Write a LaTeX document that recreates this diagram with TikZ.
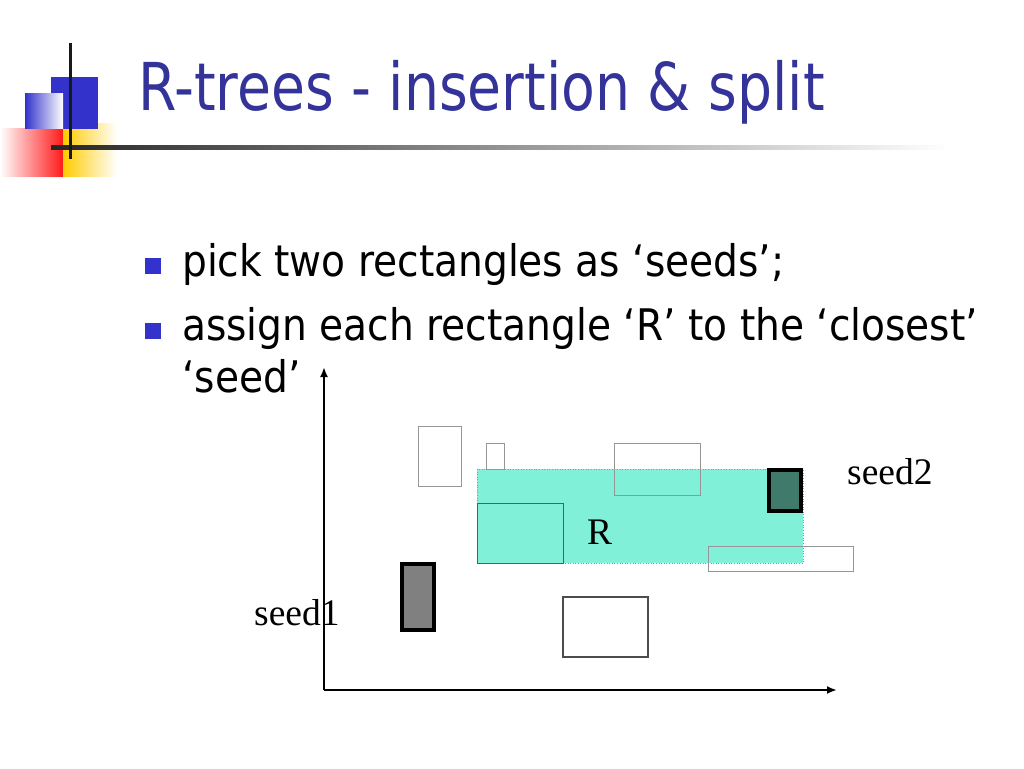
\documentclass[tikz,border=0pt]{standalone}
\usepackage{fontspec}
\usepackage{graphicx}
\setmainfont{Liberation Serif}
\newfontfamily\tahoma{DejaVu Sans Condensed}
\usetikzlibrary{arrows.meta}
\definecolor{titleblue}{HTML}{333399}
\definecolor{bulletblue}{HTML}{3333CC}
\definecolor{logoblue}{HTML}{3333CC}
\definecolor{cyanfill}{RGB}{128,240,216}
\definecolor{seedtwo}{RGB}{64,122,106}
\definecolor{thingray}{RGB}{150,150,150}
\definecolor{logoyellow}{HTML}{FFCC00}
\tikzset{
  bodytext/.style={anchor=base west,inner sep=0pt,font=\tahoma\fontsize{43.5}{50}\selectfont},
  bulletsq/.style={fill=bulletblue,draw=none},
  thinrect/.style={draw=thingray,line width=1pt},
  seedrect/.style={draw=black,line width=4pt},
  lbl/.style={inner sep=0pt,font=\fontsize{37.5}{40}\selectfont},
  axis/.style={line width=2pt,-{Latex[length=10pt,width=8pt]}}
}
\begin{document}
\begin{tikzpicture}[x=1pt,y=-1pt]
\useasboundingbox[fill=white] (0,0) rectangle (1024,768);
% logo
\shade[left color=white,right color=red!90] (0,128) rectangle (63,176);
\shade[left color=logoyellow,right color=white] (63,123) rectangle (117,176);
\fill[logoblue] (51,77) rectangle (98,129);
\shade[left color=logoblue,right color=white] (25,93) rectangle (63,128);
\shade[left color=black!85,right color=white] (51,145.5) rectangle (950,149);
\fill[black!90] (68.5,43) rectangle (71.5,159);
% title
\node[anchor=base west,inner sep=0pt,text=titleblue,font=\tahoma\fontsize{66}{70}\selectfont] (title) at (138,110) {\scalebox{0.93}[1]{R-trees - insertion \& split}};
% bullets
\fill[bulletsq] (145,258) rectangle (161,274);
\fill[bulletsq] (145,323) rectangle (161,339);
\node[bodytext] (l1) at (182,276) {pick two rectangles as ‘seeds’;};
\node[bodytext] (l2) at (182,340) {assign each rectangle ‘R’ to the ‘closest’};
\node[bodytext] (l3) at (182,392) {‘seed’};
% axes
\coordinate (o) at (324,690);
\coordinate (ytip) at (324,367);
\coordinate (xtip) at (837,690);
\draw[axis] (o) -- (ytip);
\draw[axis] (o) -- (xtip);
% R region
\fill[cyanfill] (477,469) rectangle (803,563);
\draw[thingray,line width=0.6pt,dotted] (477,469) rectangle (803,563);
% rectangles
\draw[thinrect] (418,426) rectangle (461,486);
\draw[thinrect] (486,443) rectangle (504,469);
\draw[thinrect] (614,443) rectangle (700,495);
\draw[thinrect,draw=black!55!cyanfill] (477,503) rectangle (563,563);
\draw[thinrect] (708,546) rectangle (853,571);
\draw[draw=black!70,line width=1.2pt] (563,597) rectangle (648,657);
% seeds
\node[seedrect,fill=seedtwo,minimum width=32pt,minimum height=41pt,inner sep=0pt] (s2) at (785,490.5) {};
\node[seedrect,fill=gray,minimum width=32pt,minimum height=66pt,inner sep=0pt] (s1) at (418,597) {};
% labels
\node[lbl,anchor=base west] (R) at (587,544) {R};
\node[lbl,anchor=base west] (seed1) at (254,625) {seed1};
\node[lbl,anchor=base west] (seed2) at (847,484) {seed2};
\end{tikzpicture}
\end{document}
